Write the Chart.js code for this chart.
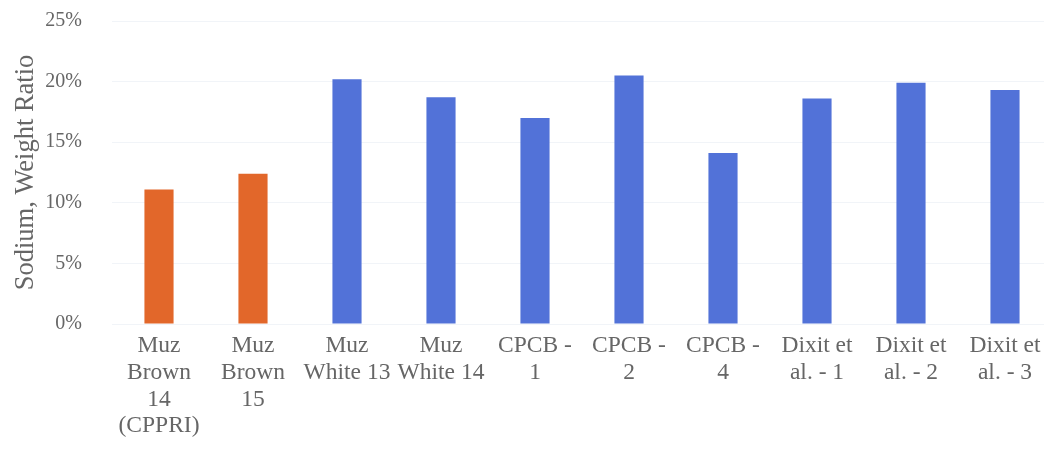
<!DOCTYPE html>
<html>
<head>
<meta charset="utf-8">
<script src="https://cdn.jsdelivr.net/npm/chart.js@4"></script>
<style>
  html, body { margin: 0; padding: 0; background: #ffffff; overflow: hidden; }
  #wrap { position: relative; width: 1052px; height: 470px; margin-top: -21px; }
</style>
</head>
<body>
<div id="wrap"><canvas id="chart"></canvas></div>
<script>
// Sample names (multi-line axis labels)
const categories = [
  ["Muz", "Brown", "14", "(CPPRI)"],
  ["Muz", "Brown", "15"],
  ["Muz", "White 13"],
  ["Muz", "White 14"],
  ["CPCB -", "1"],
  ["CPCB -", "2"],
  ["CPCB -", "4"],
  ["Dixit et", "al. - 1"],
  ["Dixit et", "al. - 2"],
  ["Dixit et", "al. - 3"]
];

// Sodium content, percent by weight
const sodiumPercent = [11.1, 12.4, 20.2, 18.7, 17.0, 20.5, 14.1, 18.6, 19.9, 19.3];

// Which samples are brown (the rest are white / reference values)
const isBrown = [true, true, false, false, false, false, false, false, false, false];

// Value axis ticks
const yTicks = [0, 5, 10, 15, 20, 25];

const ORANGE = '#E2672A';
const BLUE = '#5272D8';
const TEXT = '#666666';
const FONT = "'Liberation Serif', 'Times New Roman', serif";

new Chart(document.getElementById('chart'), {
  type: 'bar',
  data: {
    labels: categories,
    datasets: [{
      data: sodiumPercent,
      backgroundColor: isBrown.map(b => b ? ORANGE : BLUE),
      borderWidth: 0,
      categoryPercentage: 1.0,
      barPercentage: 0.31
    }]
  },
  options: {
    responsive: true,
    maintainAspectRatio: false,
    animation: false,
    layout: { padding: 0 },
    plugins: {
      legend: { display: false },
      tooltip: { enabled: false }
    },
    scales: {
      x: {
        grid: { display: false },
        border: { display: false },
        ticks: {
          color: TEXT,
          font: { family: FONT, size: 23.5, lineHeight: 1.13 },
          padding: 1,
          maxRotation: 0,
          minRotation: 0,
          autoSkip: false
        },
        afterFit: s => { s.height = 125; }
      },
      y: {
        min: yTicks[0],
        max: yTicks[yTicks.length - 1],
        afterBuildTicks: s => { s.ticks = yTicks.map(v => ({ value: v })); },
        grid: { color: '#f1f4f8', lineWidth: 1, drawTicks: false },
        border: { display: false },
        ticks: {
          color: TEXT,
          font: { family: FONT, size: 20 },
          padding: 30,
          callback: v => v + '%'
        },
        title: {
          display: true,
          text: 'Sodium, Weight Ratio',
          color: TEXT,
          font: { family: FONT, size: 26.5 },
          padding: { top: 10, bottom: 0 }
        },
        afterFit: s => { s.width = 112; }
      }
    }
  }
});
</script>
</body>
</html>
